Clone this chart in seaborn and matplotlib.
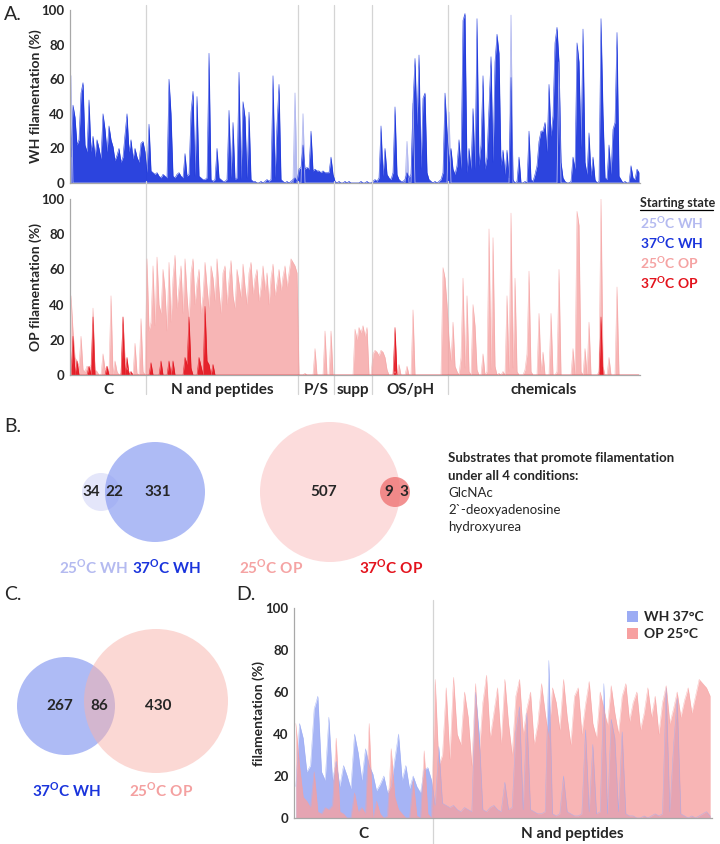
import numpy as np
import pandas as pd
import matplotlib
matplotlib.use("Agg")
import matplotlib.pyplot as plt
from matplotlib.patches import Circle, Patch
from matplotlib.lines import Line2D
import seaborn as sns

# ---- data: filamentation (%) per well, grouped by plate category ----
categories = ["C", "N and peptides", "P/S", "supp", "OS/pH", "chemicals"]

wh37_c = [15, 45, 38, 22, 25, 52, 58, 22, 18, 48,
          18, 27, 15, 25, 20, 14, 40, 31, 18, 33,
          25, 21, 13, 16, 20, 12, 15, 28, 40, 18,
          25, 14, 20, 15, 12, 23, 24, 18]
wh37_n = [6, 34, 7, 6, 5, 6, 4, 3, 5, 4,
          3, 60, 40, 4, 3, 5, 6, 4, 3, 17,
          4, 5, 41, 53, 4, 50, 4, 3, 2, 2,
          3, 75, 2, 1, 2, 20, 3, 2, 1, 1,
          2, 42, 3, 35, 2, 3, 64, 2, 47, 38,
          3, 41, 2, 1, 1, 0, 0, 1, 0, 1,
          2, 1, 2, 62, 3, 34, 57, 2, 1, 0,
          1, 0, 1, 2, 3, 1]
wh37_ps = [8, 9, 22, 8, 9, 8, 30, 7, 8, 7, 7, 6, 7, 6, 6, 6, 15, 5]
wh37_supp = [1, 0, 1, 0, 0, 1, 0, 1, 0, 0, 0, 0, 0, 1, 0, 0, 1, 0, 0]
wh37_os = [1, 2, 1, 3, 33, 4, 20, 5, 3, 2,
           6, 44, 5, 2, 1, 1, 2, 6, 3, 5,
           46, 72, 33, 74, 8, 49, 52, 6, 2, 1,
           0, 1, 0, 1, 2, 6, 52, 30]
wh37_chem = [12, 20, 8, 5, 10, 25, 8, 94, 98, 6,
             20, 8, 43, 8, 95, 10, 22, 62, 8, 15,
             44, 73, 12, 70, 86, 75, 10, 19, 5, 19,
             3, 61, 2, 0, 1, 15, 0, 0, 1, 0,
             30, 2, 1, 5, 10, 24, 30, 30, 35, 18,
             57, 27, 39, 81, 90, 70, 12, 3, 1, 0,
             0, 1, 15, 8, 81, 70, 20, 89, 12, 5,
             29, 4, 15, 2, 0, 1, 95, 40, 3, 2,
             22, 5, 31, 35, 87, 4, 2, 0, 1, 0,
             0, 10, 3, 2, 8, 6]

op25_c = [45, 25, 10, 8, 5, 22, 3, 2, 5, 4,
          6, 38, 3, 2, 0, 0, 12, 3, 5, 2,
          45, 0, 8, 2, 0, 1, 33, 10, 4, 2,
          0, 0, 18, 1, 0, 32, 2, 0]
op25_n = [66, 25, 30, 62, 28, 67, 40, 35, 60, 48,
          25, 64, 30, 55, 68, 38, 50, 62, 35, 66,
          45, 30, 58, 66, 40, 52, 60, 35, 45, 64,
          50, 38, 62, 55, 42, 66, 48, 35, 58, 62,
          40, 54, 65, 45, 38, 60, 52, 44, 63, 50,
          40, 58, 64, 46, 55, 60, 42, 50, 62, 48,
          58, 40, 55, 63, 45, 52, 60, 48, 56, 62,
          50, 58, 66, 64, 62, 58]
op25_ps = [0, 0, 0, 1, 0, 0, 0, 0, 15, 0, 0, 0, 0, 25, 0, 0, 25, 0]
op25_supp = [0, 0, 0, 0, 0, 0, 0, 0, 0, 0, 26, 20, 27, 24, 28, 22, 27, 0, 0]
op25_os = [12, 14, 13, 11, 14, 13, 10, 3, 0, 0,
           0, 2, 0, 6, 0, 0, 0, 5, 0, 0,
           37, 0, 0, 0, 0, 0, 0, 0, 0, 0,
           0, 0, 0, 0, 0, 61, 55, 40]
op25_chem = [20, 8, 30, 5, 2, 0, 10, 55, 4, 45,
             2, 0, 40, 28, 3, 0, 0, 12, 0, 2,
             83, 3, 78, 5, 0, 1, 0, 2, 0, 45,
             2, 92, 4, 55, 2, 0, 0, 0, 3, 12,
             59, 2, 0, 0, 0, 35, 2, 13, 0, 0,
             0, 35, 0, 0, 2, 60, 0, 0, 0, 0,
             0, 0, 15, 0, 93, 85, 2, 0, 15, 0,
             30, 0, 0, 0, 0, 2, 100, 5, 0, 0,
             10, 0, 0, 0, 50, 0, 0, 0, 0, 0,
             0, 0, 0, 0, 0, 0]

# sparse series: well index within category -> %
wh25_hits = {"C": {0: 62}, "N and peptides": {74: 52}, "P/S": {2: 40},
             "OS/pH": {17: 24, 20: 46}, "chemicals": {0: 41, 31: 97, 55: 70}}
op37_hits = {"C": {1: 22, 3: 8, 9: 5, 11: 33, 18: 5, 26: 33, 28: 10, 30: 2},
             "N and peptides": {2: 7, 7: 8, 11: 8, 13: 8, 19: 10, 20: 6, 21: 33,
                                22: 4, 26: 10, 27: 5, 29: 39, 30: 8, 31: 6, 33: 6},
             "OS/pH": {11: 27}, "chemicals": {76: 33}}

# Venn counts
venn_wh = [34, 22, 331]
venn_op = [507, 9, 3]
venn_cd = [267, 86, 430]
all_four = ["GlcNAc", "2`-deoxyadenosine", "hydroxyurea"]

wh37 = [wh37_c, wh37_n, wh37_ps, wh37_supp, wh37_os, wh37_chem]
op25 = [op25_c, op25_n, op25_ps, op25_supp, op25_os, op25_chem]

rows = []
for cat, w, o in zip(categories, wh37, op25):
    for i in range(len(w)):
        rows.append({"category": cat, "idx": i, "wh37": w[i], "op25": o[i],
                     "wh25": wh25_hits.get(cat, {}).get(i, 0),
                     "op37": op37_hits.get(cat, {}).get(i, 0)})
df = pd.DataFrame(rows)
df["well"] = np.arange(len(df)) + 0.5
bounds = np.cumsum([len(w) for w in wh37])
starts = np.concatenate([[0], bounds[:-1]])

# ---- style ----
sns.set_theme(style="white")
plt.rcParams["font.family"] = ["Lato", "DejaVu Sans"]
plt.rcParams["mathtext.fontset"] = "custom"
plt.rcParams["mathtext.rm"] = "Lato"
plt.rcParams["mathtext.bf"] = "Lato:bold"

C_WH25 = "#b4baf0"
C_WH37 = "#1a34dc"
C_OP25 = "#f5a3a3"
C_OP37 = "#e3121c"
GRID = "#d4d4d4"

W, H = 720, 844
fig = plt.figure(figsize=(7.2, 8.44), dpi=100)


def box(x0, y0, x1, y1):
    return [x0 / W, 1 - y1 / H, (x1 - x0) / W, (y1 - y0) / H]


ov = fig.add_axes([0, 0, 1, 1])
ov.set_xlim(0, W)
ov.set_ylim(H, 0)
ov.axis("off")


def deg(t, unit):
    return t + r"$^{\mathbf{O}}$" + unit


def area(ax, x, y, color, alpha=1.0, lw=0.4):
    ax.fill_between(x, 0, y, color=color, alpha=alpha, lw=0)
    sns.lineplot(x=x, y=y, ax=ax, color=color, lw=lw, alpha=alpha)


def style_axis(ax, ylabel):
    ax.patch.set_alpha(0)
    ax.set_ylim(0, 100)
    ax.set_yticks(range(0, 101, 20))
    ax.set_yticklabels([str(v) for v in range(0, 101, 20)],
                       fontsize=9.5, fontweight="bold")
    ax.set_xticks([])
    ax.set_xlabel("")
    ax.set_ylabel(ylabel, fontsize=10, fontweight="bold")
    ax.tick_params(axis="y", length=0, pad=4)
    sns.despine(ax=ax)
    for s in ["left", "bottom"]:
        ax.spines[s].set_color("#a8a8a8")
        ax.spines[s].set_linewidth(0.9)


# ---- panel A ----
ax_wh = fig.add_axes(box(70, 10, 640, 183))
ax_op = fig.add_axes(box(70, 199, 640, 375))
x = df["well"].values
area(ax_wh, x, df["wh25"].values, C_WH25, lw=0.6)
area(ax_wh, x, df["wh37"].values, C_WH37, alpha=0.92)
area(ax_op, x, df["op25"].values, C_OP25, alpha=0.8)
area(ax_op, x, df["op37"].values, C_OP37, alpha=0.9)
for ax, lab in [(ax_wh, "WH filamentation (%)"), (ax_op, "OP filamentation (%)")]:
    ax.set_xlim(0, len(df))
    style_axis(ax, lab)
    ax.yaxis.set_label_coords(-0.05, 0.5)
for b in bounds[:-1]:
    ax_wh.axvline(b, ymin=0, ymax=1.03, color=GRID, lw=0.9, clip_on=False, zorder=0)
    ax_op.axvline(b, ymin=-0.11, ymax=1.1, color=GRID, lw=0.9, clip_on=False, zorder=0)
for cat, s, e in zip(categories, starts, bounds):
    ax_op.text((s + e) / 2, -0.085, cat, transform=ax_op.get_xaxis_transform(),
               ha="center", va="center", fontsize=11, fontweight="bold")

leg_y = [203, 223, 243, 263, 283]
ov.text(640, leg_y[0], "Starting state", fontsize=9.0, fontweight="bold", va="center")
ov.add_line(Line2D([640, 713], [leg_y[0] + 7, leg_y[0] + 7], color="black", lw=0.9))
for yy, t, u, c in zip(leg_y[1:], ["25", "37", "25", "37"], [" WH", " WH", " OP", " OP"],
                       [C_WH25, C_WH37, C_OP25, C_OP37]):
    ov.text(640, yy, deg(t, "C" + u), color=c, fontsize=10, fontweight="bold", va="center")

# ---- panel B ----
cy = 492
ov.add_patch(Circle((101, cy), 19, color="#e4e6fa", lw=0))
ov.add_patch(Circle((155, cy), 50, color="#8c9ef2", alpha=0.7, lw=0))
ov.add_patch(Circle((330, cy), 70, color="#fcdcdc", lw=0))
ov.add_patch(Circle((395, cy), 15, color="#ee6d6d", alpha=0.75, lw=0))
for xx, v in zip([91, 114, 158], venn_wh):
    ov.text(xx, cy, str(v), ha="center", va="center", fontsize=11, fontweight="bold")
for xx, v in zip([324, 389, 404], venn_op):
    ov.text(xx, cy, str(v), ha="center", va="center", fontsize=11, fontweight="bold")
for xx, t, u, c in zip([94, 167, 271, 391], ["25", "37", "25", "37"],
                       [" WH", " WH", " OP", " OP"], [C_WH25, C_WH37, C_OP25, C_OP37]):
    ov.text(xx, 567, deg(t, "C" + u), color=c, ha="center", va="center",
            fontsize=11, fontweight="bold")
ov.text(448, 458, "Substrates that promote filamentation", fontsize=9.5,
        fontweight="bold", va="center")
ov.text(448, 476, "under all 4 conditions:", fontsize=9.5, fontweight="bold", va="center")
for k, s in enumerate(all_four):
    ov.text(448, 493 + 17 * k, s, fontsize=9.5, va="center")

# ---- panel C ----
ov.add_patch(Circle((66, 706), 49, color="#8c9ef2", alpha=0.7, lw=0))
ov.add_patch(Circle((156, 701), 72, color="#f8b2aa", alpha=0.5, lw=0))
for xx, v in zip([60, 99, 158], venn_cd):
    ov.text(xx, 706, str(v), ha="center", va="center", fontsize=11, fontweight="bold")
ov.text(67, 790, deg("37", "C WH"), color=C_WH37, ha="center", va="center",
        fontsize=11, fontweight="bold")
ov.text(161, 790, deg("25", "C OP"), color="#f4a0a0", ha="center", va="center",
        fontsize=11, fontweight="bold")

# ---- panel D ----
dd = df[df["category"].isin(categories[:2])]
ax_d = fig.add_axes(box(294, 608, 712, 818))
xd = dd["well"].values
area(ax_d, xd, dd["wh37"].values, "#9cacf4", alpha=0.9, lw=0.3)
area(ax_d, xd, dd["op25"].values, "#f7a0a0", alpha=0.78, lw=0.3)
ax_d.set_xlim(0, len(dd))
style_axis(ax_d, "filamentation (%)")
ax_d.yaxis.set_label_coords(-0.07, 0.5)
ax_d.axvline(bounds[0], ymin=-0.15, ymax=1.04, color=GRID, lw=0.9, clip_on=False, zorder=0)
for cat, s, e in zip(categories[:2], starts[:2], bounds[:2]):
    ax_d.text((s + e) / 2, -0.075, cat, transform=ax_d.get_xaxis_transform(),
              ha="center", va="center", fontsize=11, fontweight="bold")
handles = [Patch(color="#9cacf4", lw=0), Patch(color="#f7a0a0", lw=0)]
ax_d.legend(handles, ["WH 37°C", "OP 25°C"], loc="upper right",
            bbox_to_anchor=(1.01, 1.045), frameon=False, handlelength=0.8,
            handleheight=0.8, handletextpad=0.4, labelspacing=0.35,
            prop={"weight": "bold", "size": 10})

# panel letters
for t, xx, yy in [("A.", 4, 14), ("B.", 4, 426), ("C.", 4, 594), ("D.", 236, 594)]:
    ov.text(xx, yy, t, fontsize=14, va="center")

fig.savefig("out.png", dpi=100)
